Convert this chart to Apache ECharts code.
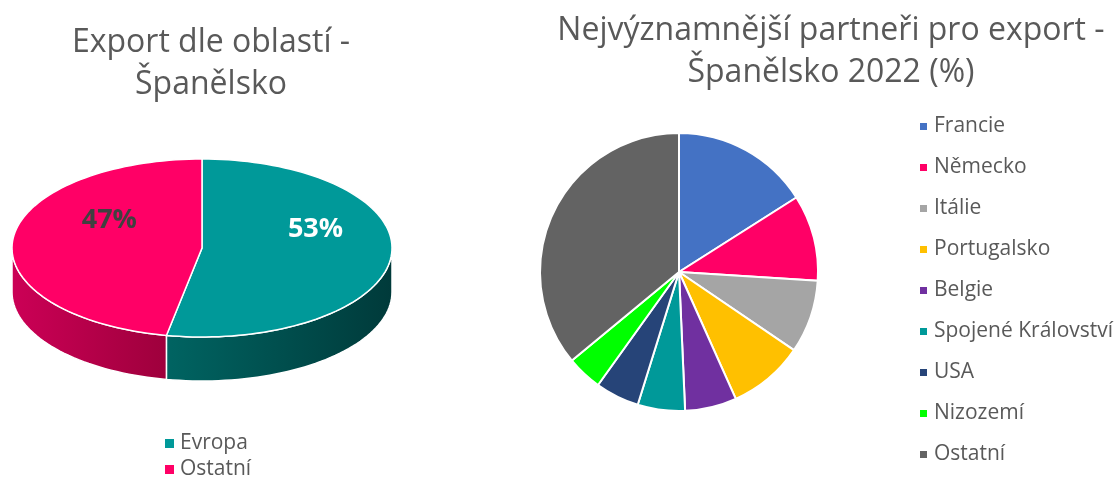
<!DOCTYPE html>
<html>
<head>
<meta charset="utf-8">
<script src="https://cdn.jsdelivr.net/npm/echarts@6/dist/echarts.min.js"></script>
<style>
  html, body { margin: 0; padding: 0; background: #fff; }
  #chart { width: 1118px; height: 478px; }
</style>
</head>
<body>
<div id="chart"></div>
<script>
// levý graf - export dle oblastí
const regionNames = ['Evropa', 'Ostatní']
const regionValues = [53, 47]
const regionColors = ['#009999', '#FF0066']
const regionSideColors = [['#006462', '#003a3a'], ['#cc0056', '#9e003c']]
const regionLabelColors = ['#ffffff', '#404040']

// pravý graf - partneři
const partnerNames = ['Francie', 'Německo', 'Itálie', 'Portugalsko', 'Belgie', 'Spojené Království', 'USA', 'Nizozemí', 'Ostatní']
const partnerValues = [16, 10, 8.5, 8.8, 6, 5.5, 5.1, 4.1, 36]
const partnerColors = ['#4472C4', '#FF0066', '#A5A5A5', '#FFC000', '#7030A0', '#009999', '#264478', '#00FF00', '#636363']

const chart = echarts.init(document.getElementById('chart'))

// geometrie "3D" koláče
const pie3d = { cx: 202, cy: 248, rx: 190, ry: 89, depth: 44 }
const labelRadius = [0.6, 0.49]
const regionTotal = regionValues.reduce((a, b) => a + b, 0)

const rim = (deg, dy) => {
  const t = deg * Math.PI / 180
  return [pie3d.cx + pie3d.rx * Math.sin(t), pie3d.cy - pie3d.ry * Math.cos(t) + (dy || 0)]
}

const arc = (from, to, dy) => {
  const pts = []
  const steps = Math.max(2, Math.ceil(Math.abs(to - from) / 2))
  for (let i = 0; i <= steps; i++) {
    pts.push(rim(from + (to - from) * i / steps, dy))
  }
  return pts
}

const sliceSeries = regionNames.map((name, idx) => {
  const before = regionValues.slice(0, idx).reduce((a, b) => a + b, 0)
  const start = before / regionTotal * 360
  const end = (before + regionValues[idx]) / regionTotal * 360
  return {
    name: 'region-' + name,
    type: 'custom',
    coordinateSystem: 'none',
    itemStyle: { color: regionColors[idx] },
    data: [[start, end, regionValues[idx]]],
    renderItem: function (params, api) {
      const a = api.value(0)
      const b = api.value(1)
      const children = []
      // bočnice - jen přední část (90°-270°)
      const fa = Math.max(a, 90)
      const fb = Math.min(b, 270)
      if (fb > fa) {
        const top = arc(fa, fb, 0)
        const bottom = arc(fb, fa, pie3d.depth)
        children.push({
          type: 'polygon',
          shape: { points: top.concat(bottom) },
          style: {
            fill: new echarts.graphic.LinearGradient(0, 0, 1, 0, [
              { offset: 0, color: regionSideColors[idx][0] },
              { offset: 1, color: regionSideColors[idx][1] }
            ]),
            stroke: '#fff',
            lineWidth: 1.5
          }
        })
      }
      // horní plocha
      children.push({
        type: 'polygon',
        shape: { points: [[pie3d.cx, pie3d.cy]].concat(arc(a, b, 0)) },
        style: { fill: regionColors[idx], stroke: '#fff', lineWidth: 1.5 }
      })
      // popisek
      const mid = (a + b) / 2 * Math.PI / 180
      const r = labelRadius[idx]
      children.push({
        type: 'text',
        style: {
          text: Math.round(api.value(2) / regionTotal * 100) + '%',
          x: pie3d.cx + pie3d.rx * r * Math.sin(mid),
          y: pie3d.cy - pie3d.ry * r * Math.cos(mid) - 24,
          fill: regionLabelColors[idx],
          font: 'bold 27px "Open Sans", sans-serif',
          align: 'center',
          verticalAlign: 'middle'
        }
      })
      return { type: 'group', children: children }
    }
  }
})

const titleStyle = { fontSize: 32, fontWeight: 'normal', color: '#595959', lineHeight: 42, fontFamily: '"Open Sans", sans-serif' }
const legendText = { fontSize: 21, color: '#595959', padding: [0, 0, 0, 1] }

const option = {
  textStyle: { fontFamily: '"Open Sans", sans-serif' },
  title: [
    {
      text: 'Export dle oblastí -\nŠpanělsko',
      left: 206,
      top: 17,
      textAlign: 'center',
      textStyle: titleStyle
    },
    {
      text: 'Nejvýznamnější partneři pro export -\nŠpanělsko 2022 (%)',
      left: 826,
      top: 5,
      textAlign: 'center',
      textStyle: titleStyle
    }
  ],
  legend: [
    {
      data: regionNames.map((n, i) => ({ name: 'region-' + n, itemStyle: { color: regionColors[i] } })),
      formatter: n => n.replace('region-', ''),
      orient: 'vertical',
      left: 165,
      top: 433,
      height: 60,
      padding: 0,
      itemWidth: 9,
      itemHeight: 9,
      itemGap: 5,
      icon: 'rect',
      selectedMode: false,
      textStyle: legendText
    },
    {
      data: partnerNames.map((n, i) => ({ name: n, itemStyle: { color: partnerColors[i] } })),
      orient: 'vertical',
      left: 918,
      top: 116,
      height: 380,
      padding: 0,
      itemWidth: 9,
      itemHeight: 9,
      itemGap: 20,
      icon: 'rect',
      selectedMode: false,
      textStyle: legendText
    }
  ],
  series: sliceSeries.concat([
    {
      name: 'Partneři',
      type: 'pie',
      center: [679, 272],
      radius: 139,
      startAngle: 90,
      clockwise: true,
      label: { show: false },
      labelLine: { show: false },
      emphasis: { disabled: true },
      itemStyle: { borderColor: '#fff', borderWidth: 2 },
      data: partnerNames.map((n, i) => ({ name: n, value: partnerValues[i], itemStyle: { color: partnerColors[i] } }))
    }
  ])
}

chart.setOption(option)
</script>
</body>
</html>
